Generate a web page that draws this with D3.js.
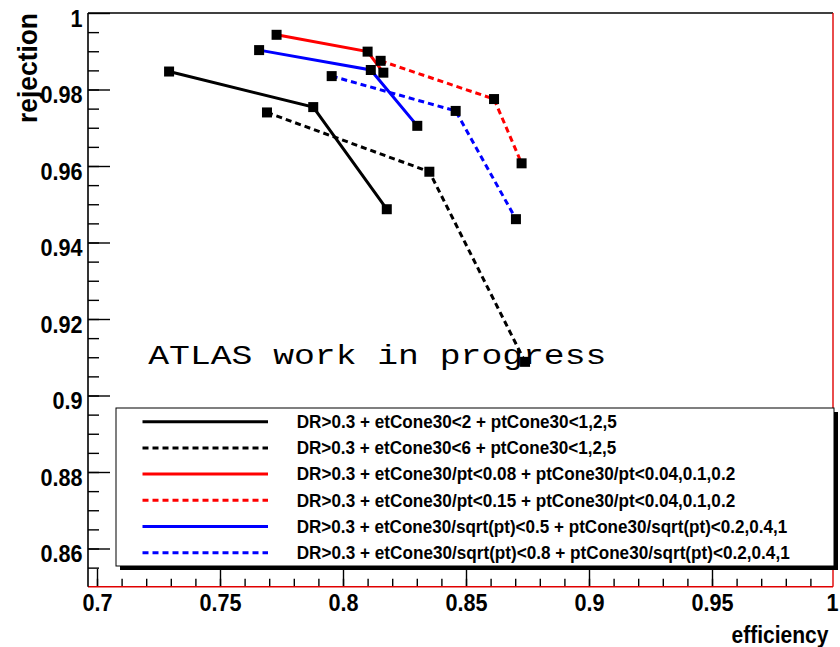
<!DOCTYPE html>
<html>
<head>
<meta charset="utf-8">
<script src="https://cdn.jsdelivr.net/npm/d3@7"></script>
<style>
  html, body { margin: 0; padding: 0; background: #fff; }
  svg { display: block; }
</style>
</head>
<body>
<svg id="chart" width="840" height="647"></svg>
<script>
// ---------------- data ----------------
const legendLabels = [
  "DR>0.3 + etCone30<2 + ptCone30<1,2,5",
  "DR>0.3 + etCone30<6 + ptCone30<1,2,5",
  "DR>0.3 + etCone30/pt<0.08 + ptCone30/pt<0.04,0.1,0.2",
  "DR>0.3 + etCone30/pt<0.15 + ptCone30/pt<0.04,0.1,0.2",
  "DR>0.3 + etCone30/sqrt(pt)<0.5 + ptCone30/sqrt(pt)<0.2,0.4,1",
  "DR>0.3 + etCone30/sqrt(pt)<0.8 + ptCone30/sqrt(pt)<0.2,0.4,1"
];
const effEt2     = [0.7293, 0.7879, 0.8178];
const rejEt2     = [0.9847, 0.9754, 0.9487];
const effEt6     = [0.7691, 0.8351, 0.8740];
const rejEt6     = [0.9740, 0.9585, 0.9088];
const effEtPt008 = [0.7730, 0.8100, 0.8164];
const rejEtPt008 = [0.9943, 0.9899, 0.9844];
const effEtPt015 = [0.8153, 0.8614, 0.8726];
const rejEtPt015 = [0.9875, 0.9775, 0.9607];
const effSqrt05  = [0.7659, 0.8113, 0.8302];
const rejSqrt05  = [0.9903, 0.9851, 0.9705];
const effSqrt08  = [0.7954, 0.8458, 0.8703];
const rejSqrt08  = [0.9835, 0.9744, 0.9461];

const xTickValues = [0.7, 0.75, 0.8, 0.85, 0.9, 0.95, 1];
const yTickValues = [0.86, 0.88, 0.9, 0.92, 0.94, 0.96, 0.98, 1];
const xTitle = "efficiency";
const yTitle = "rejection";
const watermark = "ATLAS work in progress";

// ---------------- styles ----------------
const seriesColor = ["#000000", "#000000", "#ff0000", "#ff0000", "#0000ff", "#0000ff"];
const seriesDash  = [null, "6,4", null, "6,4", null, "6,4"];
const seriesX = [effEt2, effEt6, effEtPt008, effEtPt015, effSqrt05, effSqrt08];
const seriesY = [rejEt2, rejEt6, rejEtPt008, rejEtPt015, rejSqrt05, rejSqrt08];

// ---------------- layout ----------------
const frame = { left: 88, right: 833, top: 13, bottom: 586.75 };
const svg = d3.select("#chart");

const x = d3.scaleLinear()
  .domain([0.7 - 9 / 2460, 0.7 + (833 - 97) / 2460])
  .range([frame.left, frame.right]);
const y = d3.scaleLinear()
  .domain([0.85, 1.0])
  .range([frame.bottom, frame.top]);

const boldFont = "'Liberation Sans', 'Helvetica', Arial, sans-serif";

// frame background
svg.append("rect")
  .attr("x", frame.left).attr("y", frame.top)
  .attr("width", frame.right - frame.left).attr("height", frame.bottom - frame.top)
  .attr("fill", "#fff");

// minor ticks
const xMinor = d3.range(70, 100).map(v => v / 100).filter(v => x(v) >= frame.left && x(v) < frame.right);
const yMinor = d3.range(171, 200).map(v => v / 200);

function condense(sel, factor) {
  sel.each(function () {
    const len = this.getComputedTextLength();
    d3.select(this).attr("textLength", len * factor).attr("lengthAdjust", "spacingAndGlyphs");
  });
}

// X axis
const xAxisG = svg.append("g").attr("transform", `translate(0,${frame.bottom})`);
xAxisG.call(d3.axisBottom(x).tickValues(xMinor).tickSize(-8).tickFormat(""));
xAxisG.call(g => g.select(".domain").remove());
const xMajG = svg.append("g").attr("transform", `translate(0,${frame.bottom})`);
xMajG.call(d3.axisBottom(x).tickValues(xTickValues).tickSize(-18).tickPadding(8).tickFormat(d3.format("~g")));
xMajG.call(g => g.select(".domain").remove());
xMajG.selectAll(".tick line").filter(d => x(d) > frame.right - 1).remove();
xMajG.selectAll(".tick text")
  .attr("font-family", boldFont).attr("font-weight", "bold").attr("font-size", 23.5).attr("fill", "#000")
  .attr("dy", "0.70em")
  .attr("x", d => (x(d) > frame.right - 1 ? -3 : 0));
condense(xMajG.selectAll(".tick text"), 0.92);

// Y axis
const yAxisG = svg.append("g").attr("transform", `translate(${frame.left},0)`);
yAxisG.call(d3.axisLeft(y).tickValues(yMinor).tickSize(-11).tickFormat(""));
yAxisG.call(g => g.select(".domain").remove());
const yMajG = svg.append("g").attr("transform", `translate(${frame.left},0)`);
yMajG.call(d3.axisLeft(y).tickValues(yTickValues).tickSize(-22).tickPadding(5.5).tickFormat(d3.format("~g")));
yMajG.call(g => g.select(".domain").remove());
yMajG.selectAll(".tick text")
  .attr("dy", "0.56em")
  .attr("font-family", boldFont).attr("font-weight", "bold").attr("font-size", 23.5).attr("fill", "#000");
condense(yMajG.selectAll(".tick text"), 0.92);
svg.selectAll(".tick line").attr("stroke", "#000").attr("stroke-width", 1.4);

// frame lines
svg.append("line").attr("x1", frame.left).attr("x2", frame.right).attr("y1", frame.top).attr("y2", frame.top)
  .attr("stroke", "#000").attr("stroke-width", 1.4);
svg.append("line").attr("x1", frame.right).attr("x2", frame.right).attr("y1", frame.top).attr("y2", frame.bottom)
  .attr("stroke", "#e00000").attr("stroke-width", 1.4);
svg.append("line").attr("x1", frame.left).attr("x2", frame.right).attr("y1", frame.bottom).attr("y2", frame.bottom)
  .attr("stroke", "#e00000").attr("stroke-width", 1.4);
svg.append("line").attr("x1", frame.left).attr("x2", frame.left).attr("y1", frame.top).attr("y2", frame.bottom)
  .attr("stroke", "#000").attr("stroke-width", 1.6);

// axis titles
svg.append("text")
  .attr("x", 828.5).attr("y", 642.5)
  .attr("text-anchor", "end")
  .attr("font-family", boldFont).attr("font-weight", "bold").attr("font-size", 23)
  .attr("textLength", 97).attr("lengthAdjust", "spacingAndGlyphs")
  .text(xTitle);
svg.append("text")
  .attr("transform", "translate(37,13) rotate(-90)")
  .attr("text-anchor", "end")
  .attr("font-family", boldFont).attr("font-weight", "bold").attr("font-size", 27)
  .attr("textLength", 110).attr("lengthAdjust", "spacingAndGlyphs")
  .text(yTitle);

// watermark
svg.append("text")
  .attr("x", 148.3).attr("y", 364.3)
  .attr("font-family", "'Courier New', Courier, 'Liberation Mono', monospace")
  .attr("font-size", 28)
  .attr("textLength", 458).attr("lengthAdjust", "spacingAndGlyphs")
  .attr("fill", "#000")
  .text(watermark);

// series
const line = d3.line().x(d => x(d[0])).y(d => y(d[1]));
seriesX.forEach((xs, i) => {
  const pts = xs.map((v, j) => [v, seriesY[i][j]]);
  svg.append("path")
    .attr("d", line(pts))
    .attr("fill", "none")
    .attr("stroke", seriesColor[i])
    .attr("stroke-width", 3)
    .attr("stroke-dasharray", seriesDash[i]);
  svg.append("g").selectAll("rect").data(pts).join("rect")
    .attr("x", d => x(d[0]) - 5).attr("y", d => y(d[1]) - 5)
    .attr("width", 10).attr("height", 10)
    .attr("fill", "#000");
});

// legend
const lg = { x: 116, y: 408, w: 718, h: 158 };
svg.append("rect").attr("x", lg.x + 4).attr("y", lg.y + 4).attr("width", lg.w).attr("height", lg.h).attr("fill", "#000");
svg.append("rect").attr("x", lg.x).attr("y", lg.y).attr("width", lg.w).attr("height", lg.h)
  .attr("fill", "#fff").attr("stroke", "#000").attr("stroke-width", 1);
const legendTextWidth = [320, 319.5, 438.5, 438.5, 490.5, 493];
const rowY = d3.scaleLinear().domain([0, 5]).range([421.7, 552.7]);
legendLabels.forEach((lab, i) => {
  const ry = rowY(i);
  svg.append("line")
    .attr("x1", 142.5).attr("x2", 268).attr("y1", ry).attr("y2", ry)
    .attr("stroke", seriesColor[i]).attr("stroke-width", 3)
    .attr("stroke-dasharray", seriesDash[i]);
  svg.append("text")
    .attr("x", 296.7).attr("y", ry + 6.3)
    .attr("font-family", boldFont).attr("font-weight", "bold").attr("font-size", 17.5)
    .attr("textLength", legendTextWidth[i]).attr("lengthAdjust", "spacingAndGlyphs")
    .attr("fill", "#000")
    .text(lab);
});
</script>
</body>
</html>
